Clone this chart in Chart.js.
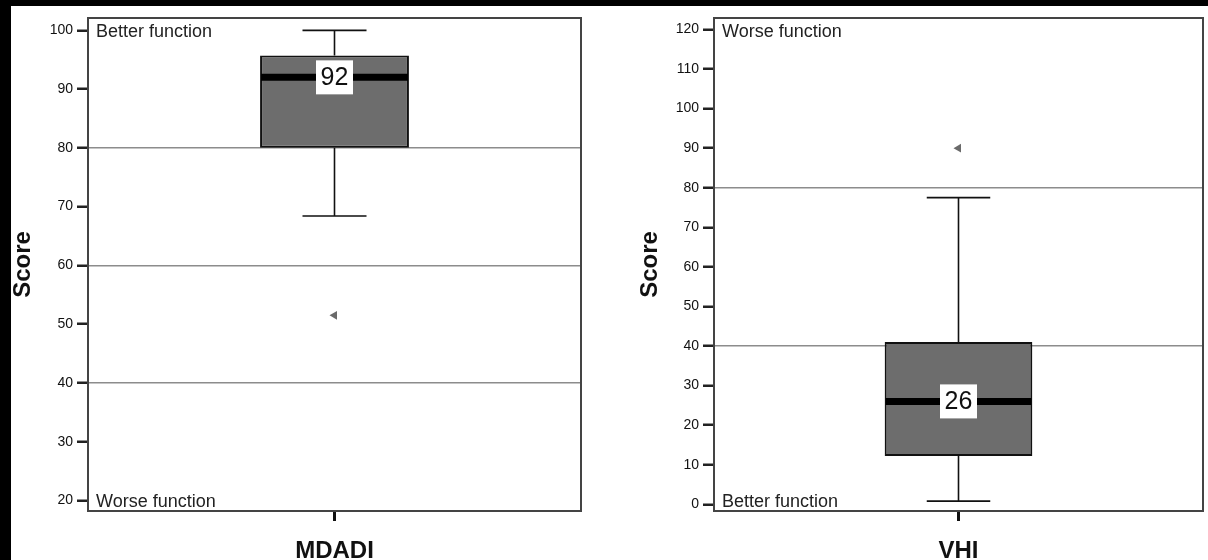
<!DOCTYPE html>
<html>
<head>
<meta charset="utf-8">
<title>MDADI / VHI</title>
<script src="https://cdn.jsdelivr.net/npm/chart.js@4.4.0/dist/chart.umd.min.js"></script>
<style>
  html, body { margin: 0; padding: 0; background: #fff; }
  body { width: 1208px; height: 560px; position: relative; overflow: hidden; }
  .panel { position: absolute; top: 0; height: 560px; }
  #left { left: 0; width: 600px; }
  #right { left: 604px; width: 604px; }
  .strip { position: absolute; background: #000; z-index: 2; }
</style>
</head>
<body>
<div class="strip" style="left:0;top:0;width:1208px;height:6px"></div>
<div class="strip" style="left:0;top:0;width:11px;height:560px"></div>
<div class="panel" id="left"><canvas id="chartA"></canvas></div>
<div class="panel" id="right"><canvas id="chartB"></canvas></div>

<script>
// box plot summaries, one entry per questionnaire
const panels = ['MDADI', 'VHI'];
const whiskerLow = [68.4, 0.8];
const quartile1 = [80, 12.2];
const medians = [92, 26];
const quartile3 = [95.7, 41];
const whiskerHigh = [100, 77.5];
const outliers = [51.5, 90];

// axis setup
const yTicks = [
  [20, 30, 40, 50, 60, 70, 80, 90, 100],
  [0, 10, 20, 30, 40, 50, 60, 70, 80, 90, 100, 110, 120]
];
const yRange = [[18.2, 102.1], [-1.7, 122.9]];
const refLines = [[40, 60, 80], [40, 80]];
const topNote = ['Better function', 'Worse function'];
const bottomNote = ['Worse function', 'Better function'];

const FONT = 'Arial, "Liberation Sans", sans-serif';
Chart.defaults.font.family = FONT;

// whiskers, median bar with its value label, plot frame and the corner notes
const boxPlot = {
  id: 'boxPlot',
  afterDatasetsDraw(chart) {
    const { ctx, chartArea: a, scales: { y } } = chart;
    const bar = chart.getDatasetMeta(0).data[0];
    const s = chart.data.datasets[0].stats;
    const x = bar.x, w = bar.width, cap = w * 0.43;
    const yLo = y.getPixelForValue(s.low), yHi = y.getPixelForValue(s.high);
    const yQ1 = y.getPixelForValue(s.q1), yQ3 = y.getPixelForValue(s.q3);
    const yMed = y.getPixelForValue(s.median);

    ctx.save();
    ctx.strokeStyle = '#111';
    ctx.lineWidth = 1.6;
    ctx.beginPath();
    ctx.moveTo(x, yQ3); ctx.lineTo(x, yHi);
    ctx.moveTo(x - cap / 2, yHi); ctx.lineTo(x + cap / 2, yHi);
    ctx.moveTo(x, yQ1); ctx.lineTo(x, yLo);
    ctx.moveTo(x - cap / 2, yLo); ctx.lineTo(x + cap / 2, yLo);
    ctx.stroke();

    ctx.lineWidth = 7;
    ctx.strokeStyle = '#000';
    ctx.beginPath();
    ctx.moveTo(x - w / 2 + 1, yMed); ctx.lineTo(x + w / 2 - 1, yMed);
    ctx.stroke();

    ctx.fillStyle = '#fff';
    ctx.fillRect(x - 18.5, yMed - 17, 37, 34);
    ctx.fillStyle = '#111';
    ctx.font = '25px ' + FONT;
    ctx.textAlign = 'center';
    ctx.textBaseline = 'middle';
    ctx.fillText(String(s.median), x, yMed + 1);

    ctx.strokeStyle = '#444';
    ctx.lineWidth = 2;
    ctx.strokeRect(a.left, a.top, a.right - a.left, a.bottom - a.top);

    ctx.fillStyle = '#222';
    ctx.font = '18px ' + FONT;
    ctx.textAlign = 'left';
    ctx.textBaseline = 'alphabetic';
    ctx.fillText(s.topNote, a.left + 8, a.top + 18.5);
    ctx.fillText(s.bottomNote, a.left + 8, a.bottom - 4.5);
    ctx.restore();
  }
};

function makeChart(canvasId, i, axisWidth, titlePad, rightPad) {
  const ctx = document.getElementById(canvasId).getContext('2d');
  return new Chart(ctx, {
    type: 'bar',
    data: {
      labels: [panels[i]],
      datasets: [{
        label: panels[i],
        data: [[quartile1[i], quartile3[i]]],
        backgroundColor: '#6d6d6d',
        borderColor: '#111',
        borderWidth: 2,
        borderSkipped: false,
        barPercentage: 0.302,
        categoryPercentage: 1,
        stats: {
          low: whiskerLow[i], q1: quartile1[i], median: medians[i],
          q3: quartile3[i], high: whiskerHigh[i],
          topNote: topNote[i], bottomNote: bottomNote[i]
        }
      }, {
        type: 'line',
        label: 'outlier',
        data: [outliers[i]],
        showLine: false,
        pointStyle: 'triangle',
        rotation: -90,
        pointRadius: 5,
        backgroundColor: '#6a6a6a',
        borderColor: '#6a6a6a',
        borderWidth: 0
      }]
    },
    options: {
      responsive: true,
      maintainAspectRatio: false,
      animation: false,
      layout: { padding: { top: 18, right: rightPad, left: 0, bottom: 0 } },
      plugins: {
        legend: { display: false },
        tooltip: { enabled: false }
      },
      scales: {
        x: {
          grid: {
            drawOnChartArea: false,
            offset: false,
            tickLength: 10,
            tickWidth: 3,
            tickColor: '#111'
          },
          border: { display: false },
          ticks: {
            color: '#111',
            padding: 16,
            font: { size: 24, weight: 'bold' }
          },
          afterFit: scale => { scale.height = 49; }
        },
        y: {
          min: yRange[i][0],
          max: yRange[i][1],
          afterBuildTicks: scale => {
            scale.ticks = yTicks[i].map(v => ({ value: v }));
          },
          grid: {
            color: c => refLines[i].includes(c.tick && c.tick.value) ? '#8c8c8c' : 'rgba(0,0,0,0)',
            lineWidth: 1.5,
            tickLength: 11,
            tickWidth: 2.5,
            tickColor: '#222'
          },
          border: { display: false },
          ticks: {
            color: '#111',
            padding: 4,
            font: { size: 14 }
          },
          title: {
            display: true,
            text: 'Score',
            color: '#111',
            font: { size: 24, weight: 'bold' },
            padding: { top: titlePad, bottom: 0 }
          },
          afterFit: scale => { scale.width = axisWidth; }
        }
      }
    },
    plugins: [boxPlot]
  });
}

makeChart('chartA', 0, 88, 8.6, 19);
makeChart('chartB', 1, 110, 31.6, 2);
</script>
</body>
</html>
